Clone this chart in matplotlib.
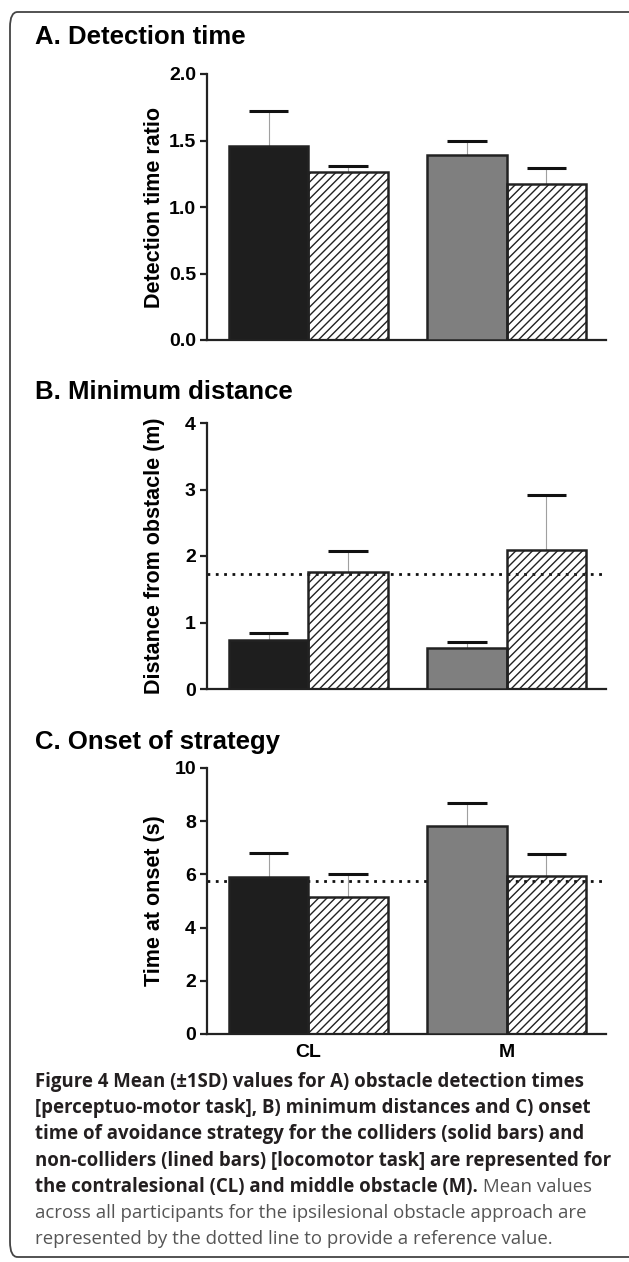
import matplotlib
matplotlib.use("Agg")
import matplotlib.pyplot as plt
from matplotlib.patches import FancyBboxPatch

W, H = 629, 1262

# data
groups = ["CL", "M"]
det_mean = [1.46, 1.26, 1.39, 1.17]
det_sd = [0.26, 0.05, 0.11, 0.12]
dist_mean = [0.73, 1.76, 0.62, 2.09]
dist_sd = [0.11, 0.32, 0.08, 0.83]
dist_ref = 1.73
onset_mean = [5.89, 5.15, 7.83, 5.93]
onset_sd = [0.90, 0.88, 0.84, 0.84]
onset_ref = 5.76

titles = ["A. Detection time", "B. Minimum distance", "C. Onset of strategy"]
ylabels = ["Detection time ratio", "Distance from obstacle (m)", "Time at onset (s)"]
yticks = [[0.0, 0.5, 1.0, 1.5, 2.0], [0, 1, 2, 3, 4], [0, 2, 4, 6, 8, 10]]
yticklabels = [["0.0", "0.5", "1.0", "1.5", "2.0"], ["0", "1", "2", "3", "4"],
               ["0", "2", "4", "6", "8", "10"]]

caption_bold = [
    "Figure 4 Mean (\u00b11SD) values for A) obstacle detection times",
    "[perceptuo-motor task], B) minimum distances and C) onset",
    "time of avoidance strategy for the colliders (solid bars) and",
    "non-colliders (lined bars) [locomotor task] are represented for",
    "the contralesional (CL) and middle obstacle (M).",
]
caption_tail = " Mean values"
caption_norm = [
    "across all participants for the ipsilesional obstacle approach are",
    "represented by the dotted line to provide a reference value.",
]

plt.rcParams["font.family"] = "Liberation Sans"
plt.rcParams["hatch.linewidth"] = 1.0


def fx(x):
    return x / W


def fy(y):
    return 1 - y / H


def draw_panel(ax, means, sds, ref, ylim, ticks, ticklabels, ylabel, show_x):
    pos = [-0.2, 0.2, 0.8, 1.2]
    colors = ["#1e1e1e", "none", "#7f7f7f", "none"]
    hatches = [None, "////", None, "////"]
    for p, m, c, h in zip(pos, means, colors, hatches):
        ax.bar(p, m, width=0.4, color=c, edgecolor="#222222", linewidth=1.8,
               hatch=h, zorder=3)
    for p, m, s in zip(pos, means, sds):
        ax.vlines(p, m, m + s, color="#a0a0a0", linewidth=0.8, zorder=2)
        ax.hlines(m + s, p - 0.1, p + 0.1, color="#111111", linewidth=2.2, zorder=4)
    if ref is not None:
        ax.axhline(ref, color="#111111", linewidth=2.0, linestyle=(0, (1, 2.0)), zorder=1)
    ax.set_xlim(-0.51, 1.5)
    ax.set_ylim(*ylim)
    ax.set_yticks(ticks)
    ax.set_yticklabels(ticklabels, fontsize=14, fontweight="bold")
    ax.set_ylabel(ylabel, fontsize=15.5, fontweight="bold")
    ax.yaxis.set_label_coords(-0.105, 0.5)
    for s in ["top", "right"]:
        ax.spines[s].set_visible(False)
    for s in ["left", "bottom"]:
        ax.spines[s].set_linewidth(1.6)
        ax.spines[s].set_color("#222222")
    ax.tick_params(axis="y", length=5, width=1.6, pad=3, color="#222222")
    ax.set_xticks([0.0, 1.0])
    if show_x:
        ax.set_xticklabels(groups, fontsize=14, fontweight="bold")
    else:
        ax.set_xticklabels([])
    ax.tick_params(axis="x", length=0, pad=7)


fig = plt.figure(figsize=(W / 100, H / 100), dpi=100)

# rounded frame around the figure
frame = FancyBboxPatch((fx(10), fy(1257)), fx(640) - fx(10), fy(12) - fy(1257),
                       boxstyle="round,pad=0,rounding_size=0.012",
                       transform=fig.transFigure, facecolor="none",
                       edgecolor="#444444", linewidth=1.3)
fig.patches.append(frame)

panels = [
    (74, 340, det_mean, det_sd, None, (0, 2.0)),
    (423, 689, dist_mean, dist_sd, dist_ref, (0, 4)),
    (768, 1034, onset_mean, onset_sd, onset_ref, (0, 10)),
]
title_y = [37, 392, 742]

for i, (top, bot, m, s, ref, ylim) in enumerate(panels):
    ax = fig.add_axes([fx(207), fy(bot), fx(606) - fx(207), (bot - top) / H])
    draw_panel(ax, m, s, ref, ylim, yticks[i], yticklabels[i], ylabels[i], i == 2)
    fig.text(fx(35), fy(title_y[i]), titles[i], fontsize=18.5, fontweight="bold",
             va="center", ha="left")

# caption
cap_font = "Open Sans"
cap_size = 13.4
y0 = 1087
dy = 26.2
for k, line in enumerate(caption_bold):
    t = fig.text(fx(35), fy(y0 + k * dy), line, fontsize=cap_size, fontweight="bold",
                 family=cap_font, color="#231f20", va="baseline", ha="left")
fig.canvas.draw()
bb = t.get_window_extent()
fig.text(bb.x1 / W, fy(y0 + 4 * dy), caption_tail, fontsize=cap_size,
         family=cap_font, color="#555555", va="baseline", ha="left")
for k, line in enumerate(caption_norm):
    fig.text(fx(35), fy(y0 + (5 + k) * dy), line, fontsize=cap_size,
             family=cap_font, color="#555555", va="baseline", ha="left")

fig.savefig("out.png", dpi=100)
